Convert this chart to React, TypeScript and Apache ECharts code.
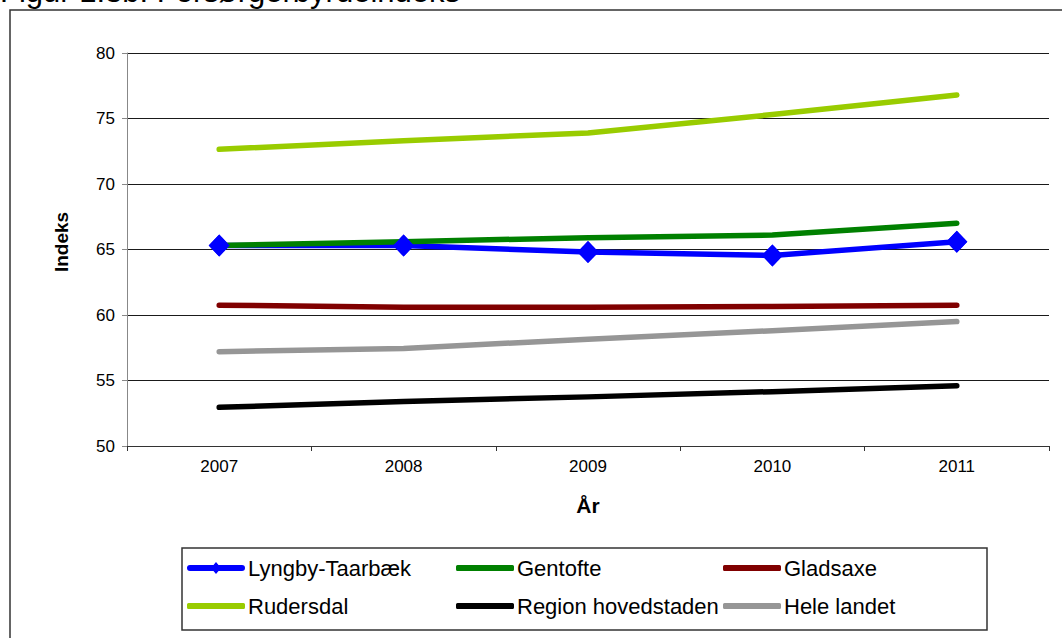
import React, { useEffect, useRef } from "react";
import * as echarts from "echarts";

const years = ["2007", "2008", "2009", "2010", "2011"];
const lyngby = [65.3, 65.3, 64.8, 64.55, 65.6];
const gentofte = [65.3, 65.6, 65.9, 66.1, 67.0];
const gladsaxe = [60.75, 60.6, 60.6, 60.65, 60.75];
const rudersdal = [72.65, 73.3, 73.9, 75.3, 76.8];
const region = [52.95, 53.4, 53.75, 54.15, 54.6];
const heleLandet = [57.2, 57.45, 58.15, 58.8, 59.5];

const seriesNames = ["Lyngby-Taarbæk", "Gentofte", "Gladsaxe", "Rudersdal", "Region hovedstaden", "Hele landet"];
const seriesColors = ["#0000FF", "#008000", "#800000", "#99CC00", "#000000", "#969696"];
const seriesValues = [lyngby, gentofte, gladsaxe, rudersdal, region, heleLandet];

const yMin = 50;
const yMax = 80;
const yInterval = 5;

const titleText = "Figur 1.3b: Forsørgerbyrdeindeks";
const yName = "Indeks";
const FONT = "'Liberation Sans', Arial, sans-serif";

const ICON_LINE_MARKER = "path://M3,4 L55,4 A3,3 0 0 1 55,10 L3,10 A3,3 0 0 1 3,4 Z M29,1 L34,7 L29,13 L24,7 Z";

export default function App() {
  const ref = useRef<HTMLDivElement>(null);
  useEffect(() => {
    if (!ref.current) return;
    document.body.style.margin = "0";
    document.body.style.overflow = "hidden";
    document.documentElement.style.overflow = "hidden";
    const chart = echarts.init(ref.current, null, { renderer: "svg" });

    const series: any[] = seriesNames.map((name, i) => ({
      name,
      type: "line",
      data: seriesValues[i],
      color: seriesColors[i],
      symbol: i === 0 ? "diamond" : "none",
      symbolSize: [21, 22],
      showSymbol: i === 0,
      lineStyle: { width: 5.5, color: seriesColors[i], cap: "round", join: "round" },
      itemStyle: { color: seriesColors[i] },
      z: i === 0 ? 2 : 3,
    }));
    // marker overlay so the diamonds sit above the other lines
    series.push({
      name: seriesNames[0],
      type: "line",
      data: lyngby,
      symbol: "diamond",
      symbolSize: [21, 22],
      lineStyle: { width: 0, opacity: 0 },
      itemStyle: { color: seriesColors[0] },
      z: 5,
    });

    const colX = [187, 456, 723];
    const rowY = [557, 595];
    const legends = seriesNames.map((name, i) => ({
      data: [name],
      left: colX[i % 3],
      top: rowY[Math.floor(i / 3)],
      padding: 0,
      icon: i === 0 ? ICON_LINE_MARKER : "roundRect",
      itemWidth: 58,
      itemHeight: i === 0 ? 14 : 6,
      itemGap: 4,
      itemStyle: { color: seriesColors[i], borderWidth: 0 },
      lineStyle: { width: 0 },
      selectedMode: false,
      textStyle: { fontFamily: FONT, fontSize: 22, color: "#000", padding: [0, 0, 0, -2] },
    }));

    chart.setOption({
      animation: false,
      backgroundColor: "#fff",
      grid: { left: 127, top: 53, right: 13, bottom: 192, containLabel: false },
      legend: legends,
      xAxis: {
        type: "category",
        data: years,
        boundaryGap: true,
        name: "År",
        nameLocation: "middle",
        nameGap: 49,
        nameTextStyle: { fontFamily: FONT, fontSize: 21, fontWeight: "bold", color: "#000" },
        axisLine: { lineStyle: { color: "#333", width: 1 } },
        axisTick: { show: true, alignWithLabel: false, length: 5, lineStyle: { color: "#333" } },
        axisLabel: { fontFamily: FONT, fontSize: 17, color: "#000", margin: 12 },
        splitLine: { show: false },
      },
      yAxis: {
        type: "value",
        min: yMin,
        max: yMax,
        interval: yInterval,
        axisLine: { show: true, lineStyle: { color: "#888", width: 1 } },
        axisTick: { show: true, length: 5, lineStyle: { color: "#888" } },
        axisLabel: { fontFamily: FONT, fontSize: 17, color: "#000", margin: 12 },
        splitLine: { show: true, lineStyle: { color: "#1a1a1a", width: 1 } },
      },
      graphic: [
        {
          type: "polyline",
          shape: { points: [[10, 640], [10, 10], [1062, 10]] },
          style: { fill: "none", stroke: "#333", lineWidth: 1.5 },
          z: -1,
          silent: true,
        },
        {
          type: "rect",
          shape: { x: 182, y: 548, width: 805, height: 82 },
          style: { fill: "none", stroke: "#333", lineWidth: 1.5 },
          silent: true,
        },
        {
          type: "text",
          x: 61,
          y: 242,
          rotation: Math.PI / 2,
          style: {
            text: yName,
            fontFamily: FONT,
            fontSize: 19,
            fontWeight: "bold",
            fill: "#000",
            align: "center",
            verticalAlign: "middle",
          },
          silent: true,
        },
        {
          type: "text",
          x: 0,
          y: 7,
          style: {
            text: titleText,
            fontFamily: FONT,
            fontSize: 31,
            fill: "#000",
            verticalAlign: "bottom",
            align: "left",
          },
          silent: true,
        },
      ],
      series,
    });
    return () => chart.dispose();
  }, []);
  return (
    <div
      ref={ref}
      style={{ position: "fixed", left: 0, top: 0, width: 1062, height: 638, background: "#fff" }}
    />
  );
}
